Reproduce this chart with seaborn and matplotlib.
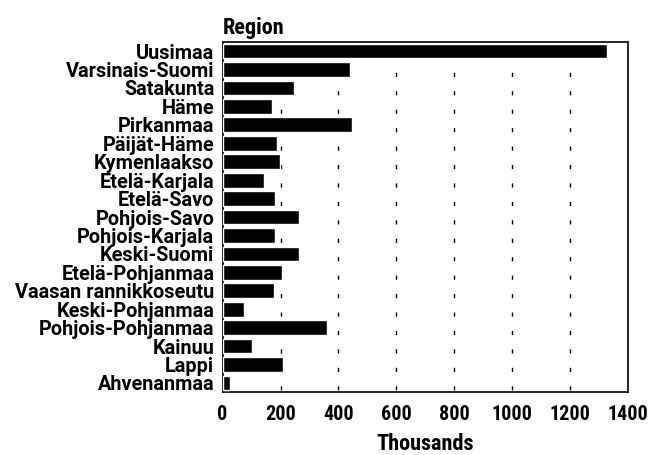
import matplotlib
matplotlib.use("Agg")
import matplotlib.pyplot as plt
import seaborn as sns
import pandas as pd

# регионы и значения (тысячи)
regions = [
    "Uusimaa", "Varsinais-Suomi", "Satakunta", "Häme", "Pirkanmaa",
    "Päijät-Häme", "Kymenlaakso", "Etelä-Karjala", "Etelä-Savo",
    "Pohjois-Savo", "Pohjois-Karjala", "Keski-Suomi", "Etelä-Pohjanmaa",
    "Vaasan rannikkoseutu", "Keski-Pohjanmaa", "Pohjois-Pohjanmaa",
    "Kainuu", "Lappi", "Ahvenanmaa",
]
values = [1326, 441, 248, 169, 445, 188, 198, 143, 180, 263,
          181, 263, 206, 178, 75, 360, 100, 209, 25]
xticks = [0, 200, 400, 600, 800, 1000, 1200, 1400]

df = pd.DataFrame({"Region": regions, "Thousands": values})

sns.set_style("white")
cond = ["Roboto Condensed", "DejaVu Sans"]
norm = ["Roboto", "DejaVu Sans"]
plt.rcParams["font.family"] = cond
plt.rcParams["font.weight"] = "bold"
plt.rcParams["text.color"] = "black"
plt.rcParams["xtick.color"] = "black"
plt.rcParams["ytick.color"] = "black"
plt.rcParams["axes.labelcolor"] = "black"

fig = plt.figure(figsize=(6.49, 4.55), dpi=100)
ax = fig.add_axes([0.343, 0.138, 0.625, 0.77])

sns.barplot(data=df, x="Thousands", y="Region", color="black",
            width=0.8, orient="h", ax=ax, zorder=3)

# пунктирная сетка по X (штрихи на границах строк)
row_pt = 0.77 * 4.55 * 72 / len(regions)
for t in xticks[1:-1]:
    ax.axvline(t, color="black", lw=1,
               linestyle=(row_pt - 1.5, (3, row_pt - 3)), zorder=1)

ax.set_xlim(0, 1400)
ax.set_xticks(xticks)
ax.set_xticklabels([str(t) for t in xticks], fontsize=14.5, fontweight="bold")
ax.set_yticks(range(len(regions)))
ax.set_yticklabels(regions, fontsize=14.3, fontweight="bold", family=norm)
ax.tick_params(axis="y", length=0, pad=6)
ax.tick_params(axis="x", direction="out", length=4, width=1, color="black", pad=5)
ax.set_ylabel("")
ax.set_xlabel("Thousands", fontsize=16, fontweight="bold", labelpad=7)
ax.set_title("Region", loc="left", fontsize=16, fontweight="bold", pad=6)

for s in ax.spines.values():
    s.set_color("black")
    s.set_linewidth(1.2)

fig.savefig("out.png", dpi=100)
